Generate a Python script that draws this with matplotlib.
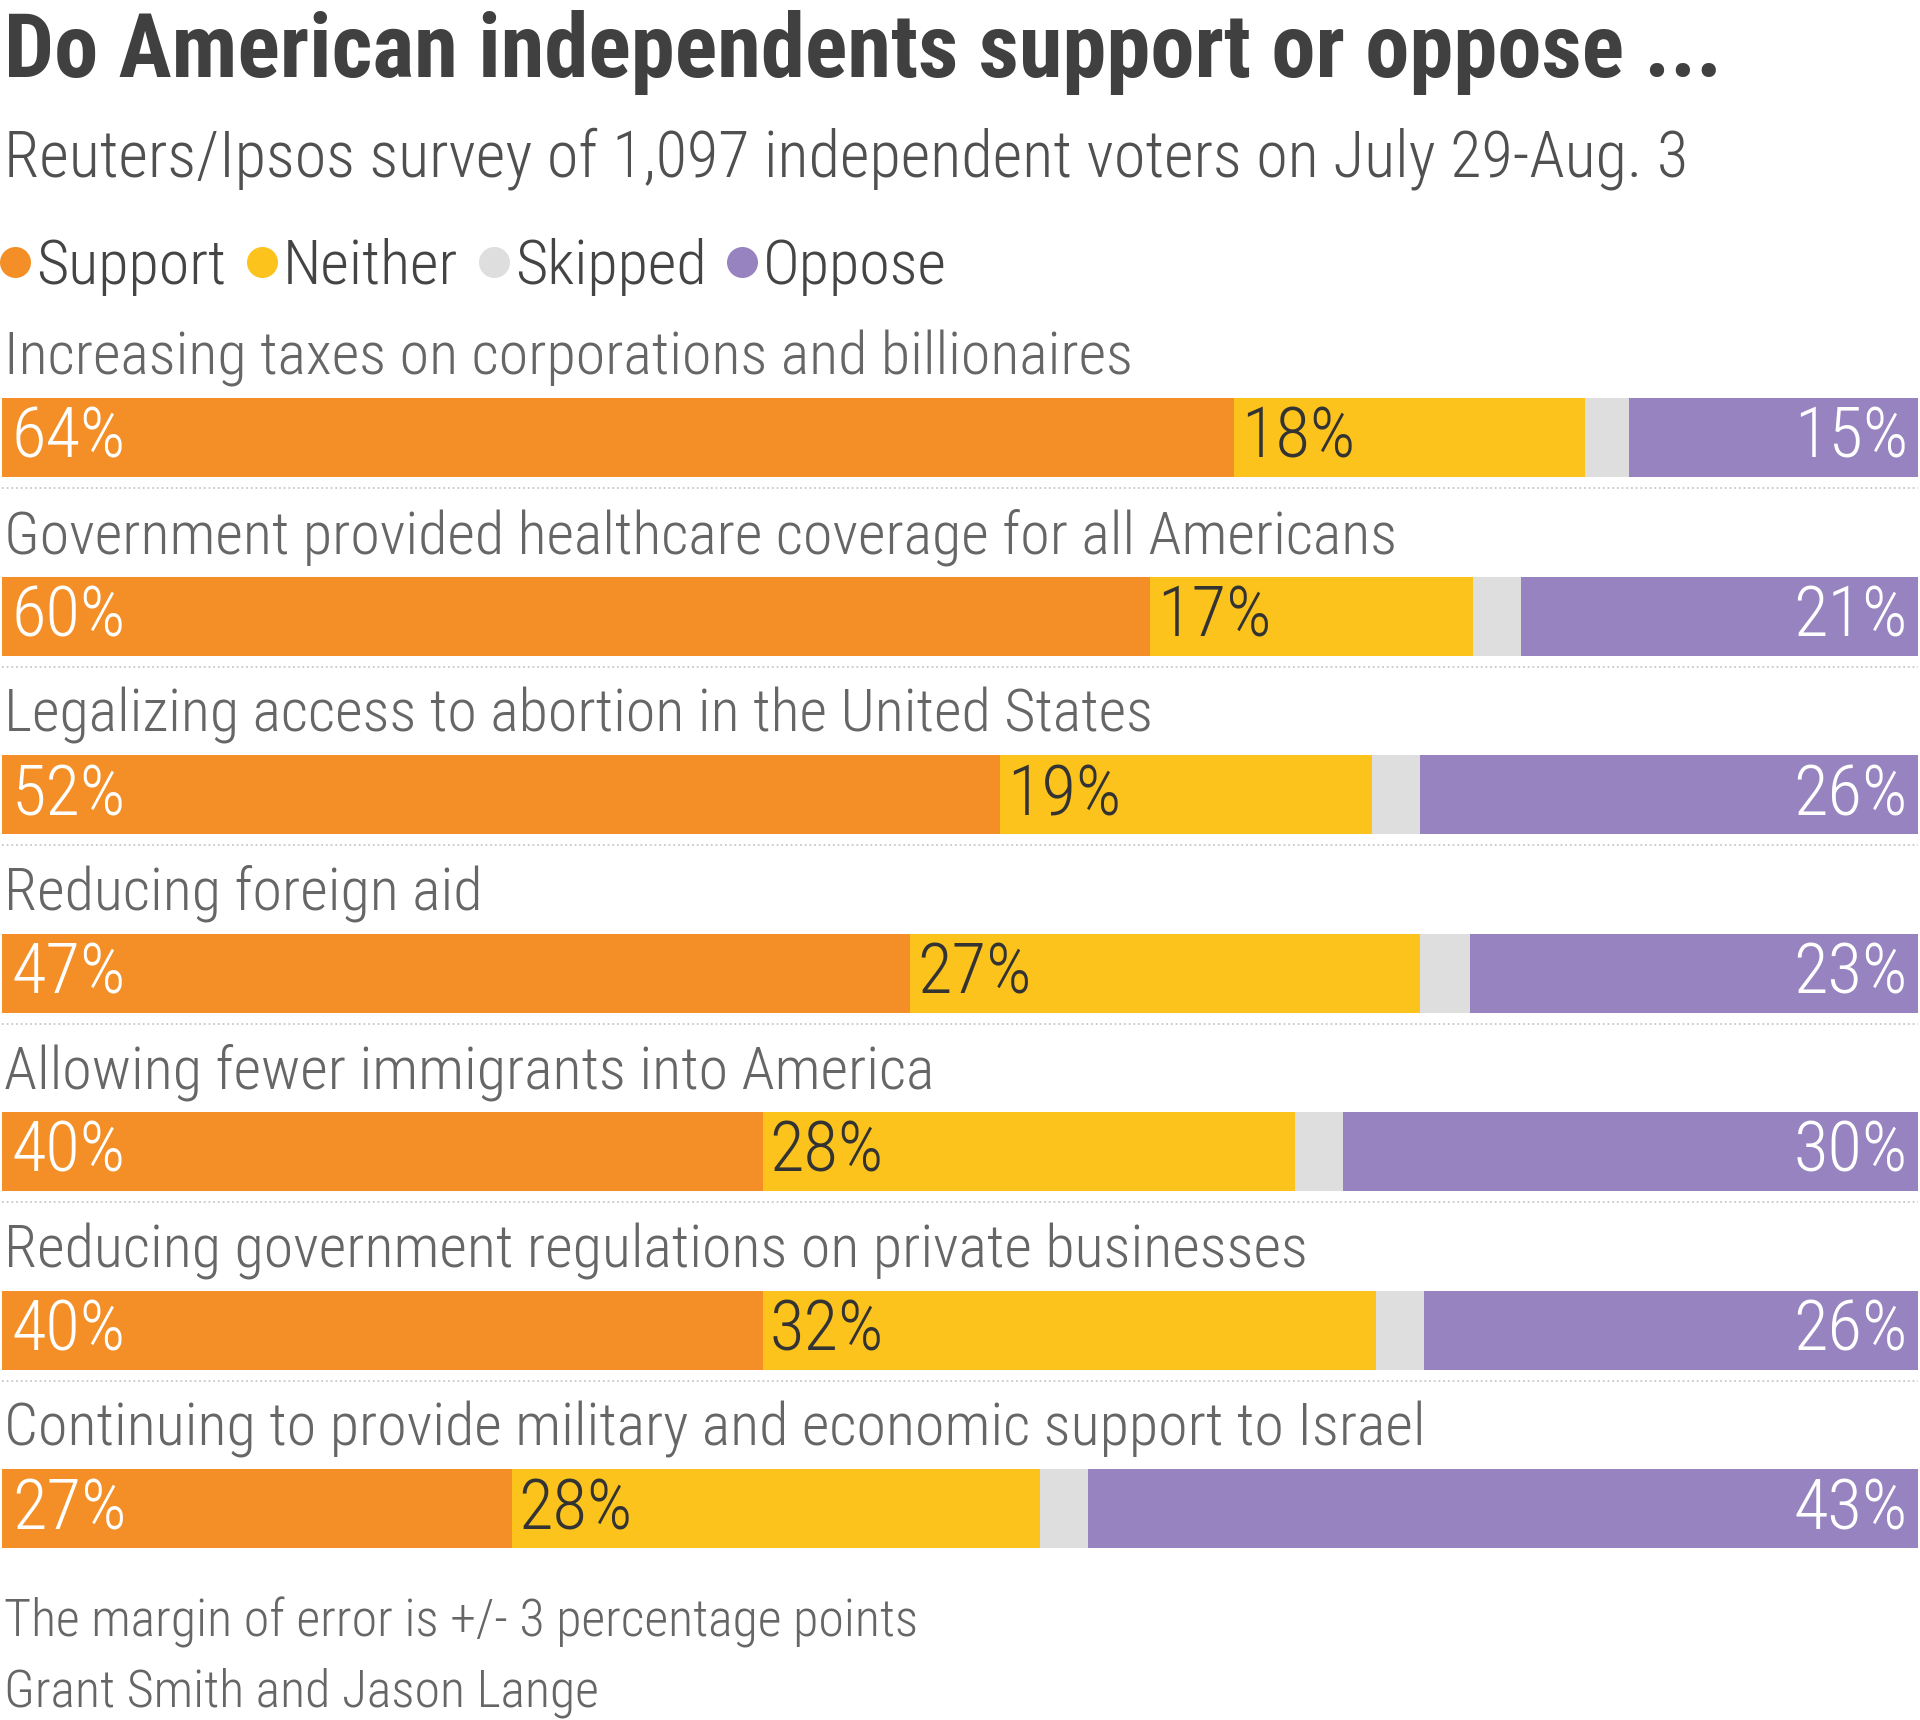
import matplotlib
matplotlib.use("Agg")
import matplotlib.pyplot as plt
from matplotlib import font_manager
from matplotlib.lines import Line2D

# values (percent of respondents, bar widths)
questions = [
    "Increasing taxes on corporations and billionaires",
    "Government provided healthcare coverage for all Americans",
    "Legalizing access to abortion in the United States",
    "Reducing foreign aid",
    "Allowing fewer immigrants into America",
    "Reducing government regulations on private businesses",
    "Continuing to provide military and economic support to Israel",
]
support = [64.3, 59.9, 52.1, 47.4, 39.7, 39.7, 26.6]
neither = [18.3, 16.9, 19.4, 26.6, 27.8, 32.0, 27.6]
skipped = [2.3, 2.5, 2.5, 2.6, 2.5, 2.5, 2.5]
oppose = [15.1, 20.7, 26.0, 23.4, 30.0, 25.8, 43.3]
series_names = ["Support", "Neither", "Skipped", "Oppose"]

TITLE = "Do American independents support or oppose ..."
SUBTITLE = "Reuters/Ipsos survey of 1,097 independent voters on July 29-Aug. 3"
NOTE = "The margin of error is +/- 3 percentage points"
BYLINE = "Grant Smith and Jason Lange"

ORANGE, YELLOW, GREY, PURPLE = "#F48F27", "#FBC31B", "#DEDEDE", "#9683C0"
colors = [ORANGE, YELLOW, GREY, PURPLE]

names = {f.name for f in font_manager.fontManager.ttflist}
FONT = "DejaVu Sans"
for cand in ["Roboto Condensed", "Liberation Sans Narrow", "Roboto", "Lato"]:
    if cand in names:
        FONT = cand
        break
plt.rcParams["font.family"] = [FONT, "DejaVu Sans"]

W, H, DPI = 1920, 1720, 100
fig = plt.figure(figsize=(W / DPI, H / DPI), dpi=DPI)
renderer = fig.canvas.get_renderer()


def fit_size(text, target_px, weight="light", base=40.0):
    t = fig.text(0, 0, text, fontsize=base, fontweight=weight)
    w = t.get_window_extent(renderer).width
    t.remove()
    return base * target_px / w


def fy(px):
    return 1 - px / H


title_fs = fit_size(TITLE, 1715, weight="bold")
sub_fs = fit_size(SUBTITLE, 1683)
row_fs = fit_size(questions[0], 1128)
val_fs = fit_size("64%", 114)
leg_fs = fit_size("Support", 190)
foot_fs = fit_size(NOTE, 914)

fig.text(4 / W, fy(77), TITLE, fontsize=title_fs, fontweight="bold",
         color="#404040", va="baseline")
fig.text(4 / W, fy(176), SUBTITLE, fontsize=sub_fs, fontweight="light",
         color="#505050", va="baseline")
fig.text(4 / W, fy(1637), NOTE, fontsize=foot_fs, fontweight="light",
         color="#666666", va="baseline")
fig.text(4 / W, fy(1707), BYLINE, fontsize=foot_fs, fontweight="light",
         color="#666666", va="baseline")

handles = [Line2D([], [], marker="o", linestyle="", markersize=31 * 72 / DPI,
                  markerfacecolor=c, markeredgewidth=0) for c in colors]
fig.legend(handles, series_names, loc="center left",
           bbox_to_anchor=(-2 / W, fy(267)), ncol=4, frameon=False,
           handlelength=0.55, handletextpad=0.06,
           columnspacing=0.30, borderpad=0, borderaxespad=0,
           prop={"size": leg_fs, "weight": "light"}, labelcolor="#444444")

# bar area: pixel rows 300..1560, one unit per row pitch
pitch = 178.5
top_px, bot_px = 300, 1560
ax = fig.add_axes([2 / W, fy(bot_px), 1916 / W, (bot_px - top_px) / H])
first_center = (437.5 - top_px) / pitch
ax.set_ylim((bot_px - top_px) / pitch - first_center, -first_center)
ax.set_xlim(0, 100)
ax.axis("off")

rows = list(range(len(questions)))
bar_h = 79 / pitch
left = [0.0] * len(rows)
for vals, c in zip([support, neither, skipped, oppose], colors):
    ax.barh(rows, vals, left=left, height=bar_h, color=c, linewidth=0)
    left = [a + b for a, b in zip(left, vals)]

for i, q in enumerate(questions):
    ax.annotate(q, xy=(0, i), xytext=(2, 63), textcoords="offset pixels",
                fontsize=row_fs, fontweight="light", color="#666666",
                va="baseline", ha="left")
    ax.annotate(f"{support[i]:.0f}%", xy=(0, i), xytext=(10, -20.5),
                textcoords="offset pixels", fontsize=val_fs,
                fontweight="light", color="white", va="baseline", ha="left")
    ax.annotate(f"{neither[i]:.0f}%", xy=(support[i], i), xytext=(7, -20.5),
                textcoords="offset pixels", fontsize=val_fs,
                fontweight="light", color="#333333", va="baseline", ha="left")
    ax.annotate(f"{oppose[i]:.0f}%", xy=(100, i), xytext=(-10, -20.5),
                textcoords="offset pixels", fontsize=val_fs,
                fontweight="light", color="white", va="baseline", ha="right")
    if i < len(questions) - 1:
        ax.plot([0, 100], [i + 50.5 / pitch] * 2, color="#c8c8c8",
                linewidth=1.3, linestyle=(0, (1, 1.6)), clip_on=False)

fig.savefig("out.png", dpi=DPI, facecolor="white")
